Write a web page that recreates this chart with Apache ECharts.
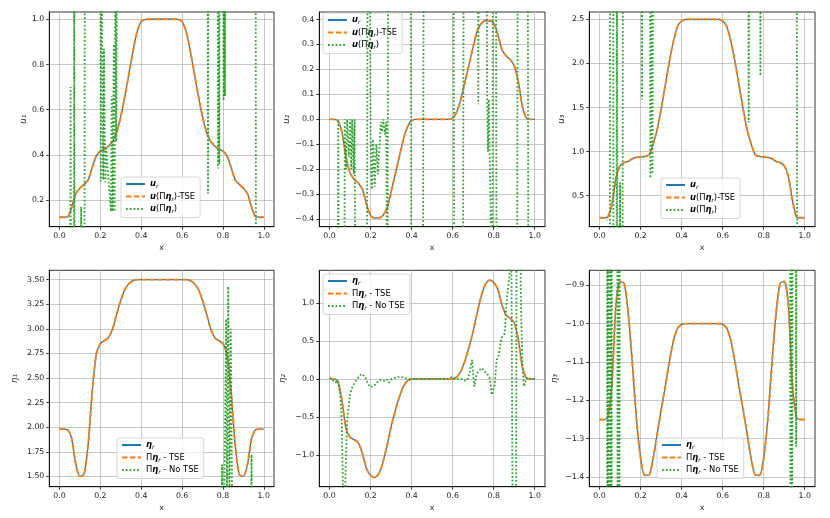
<!DOCTYPE html>
<html>
<head>
<meta charset="utf-8">
<script src="https://cdn.jsdelivr.net/npm/echarts@6/dist/echarts.min.js"></script>
<style>
html,body{margin:0;padding:0;background:#fff;}
#chart{width:830px;height:518px;}
</style>
</head>
<body>
<div id="chart"></div>
<script>
// ---- data ----
const xs = [0,0.02,0.04,0.06,0.08,0.10,0.12,0.14,0.16,0.18,0.20,0.22,0.24,0.26,0.28,0.30,0.32,0.34,0.36,0.38,0.40,0.42,0.44,0.46,0.48,0.50,
            0.52,0.54,0.56,0.58,0.60,0.62,0.64,0.66,0.68,0.70,0.72,0.74,0.76,0.78,0.80,0.82,0.84,0.86,0.88,0.90,0.92,0.94,0.96,0.98,1.0];

const u1Ref = [0.125,0.125,0.127,0.17,0.23,0.253,0.27,0.29,0.345,0.395,0.418,0.425,0.44,0.46,0.5,0.57,0.66,0.76,0.86,0.945,0.99,0.999,1,1,1,1,
               1,1,1,0.999,0.99,0.945,0.86,0.76,0.66,0.57,0.5,0.46,0.44,0.425,0.418,0.395,0.345,0.29,0.27,0.253,0.23,0.17,0.127,0.125,0.125];
const u2Ref = [0,0,-0.005,-0.05,-0.15,-0.215,-0.24,-0.255,-0.28,-0.34,-0.385,-0.395,-0.395,-0.385,-0.355,-0.29,-0.22,-0.15,-0.08,-0.03,-0.005,0,0,0,0,0,
               0,0,0,0,0.005,0.03,0.08,0.15,0.22,0.29,0.355,0.385,0.395,0.395,0.385,0.34,0.28,0.255,0.24,0.215,0.15,0.05,0.005,0,0];
const u3Ref = [0.25,0.25,0.26,0.4,0.7,0.84,0.875,0.89,0.92,0.935,0.94,0.945,0.96,1.08,1.24,1.48,1.75,2.02,2.25,2.42,2.48,2.5,2.5,2.5,2.5,2.5,
               2.5,2.5,2.5,2.5,2.48,2.42,2.25,2.02,1.75,1.48,1.24,1.08,0.96,0.945,0.94,0.935,0.92,0.89,0.875,0.84,0.72,0.45,0.26,0.25,0.25];
const eta1Ref = [1.98,1.98,1.975,1.88,1.62,1.5,1.52,1.82,2.36,2.74,2.85,2.88,2.91,3.0,3.15,3.29,3.4,3.46,3.49,3.5,3.5,3.5,3.5,3.5,3.5,3.5,
                 3.5,3.5,3.5,3.5,3.5,3.5,3.49,3.46,3.4,3.29,3.15,3.0,2.91,2.88,2.85,2.74,2.36,1.82,1.52,1.5,1.62,1.88,1.975,1.98,1.98];
const eta2Ref = [0,0,-0.03,-0.28,-0.65,-0.77,-0.8,-0.84,-0.98,-1.18,-1.27,-1.3,-1.25,-1.1,-0.88,-0.63,-0.42,-0.24,-0.1,-0.025,-0.003,0,0,0,0,0,
                 0,0,0,0,0.003,0.025,0.1,0.24,0.42,0.63,0.88,1.1,1.25,1.3,1.27,1.18,0.98,0.84,0.8,0.74,0.52,0.15,0.01,0,0];
const eta3Ref = [-1.25,-1.25,-1.245,-1.16,-0.95,-0.89,-0.895,-0.975,-1.105,-1.25,-1.35,-1.395,-1.395,-1.355,-1.29,-1.225,-1.165,-1.1,-1.045,-1.012,-1.002,-1,-1,-1,-1,-1,
                 -1,-1,-1,-1,-1.002,-1.012,-1.045,-1.1,-1.165,-1.225,-1.29,-1.355,-1.395,-1.395,-1.35,-1.25,-1.105,-0.975,-0.895,-0.89,-0.95,-1.16,-1.245,-1.25,-1.25];

// TSE projections coincide with the references
const u1Tse = u1Ref, u2Tse = u2Ref, u3Tse = u3Ref;
const eta1Tse = eta1Ref, eta2Tse = eta2Ref, eta3Tse = eta3Ref;

// No-TSE (wildly oscillating, mostly off-scale) [x, value]
const u1NoTse = [[0,-0.5],[0.052,-0.5],[0.054,0.70],[0.056,-0.5],[0.070,-0.5],[0.072,1.6],[0.074,-0.5],
  [0.104,-0.5],[0.106,0.17],[0.108,-0.5],[0.122,-0.5],[0.124,1.6],[0.200,1.6],[0.202,0.283],[0.204,1.6],
  [0.212,1.6],[0.214,0.29],[0.218,0.87],[0.224,0.28],[0.228,0.43],[0.252,0.15],[0.256,0.66],
  [0.260,0.15],[0.266,0.89],[0.270,0.15],[0.274,1.6],[0.278,0.46],[0.282,1.6],[0.725,1.6],[0.727,0.23],[0.729,1.6],
  [0.774,1.6],[0.776,0.34],[0.778,1.6],[0.782,0.36],[0.784,1.6],[0.800,1.6],[0.803,0.64],[0.806,1.6],[0.810,0.66],
  [0.813,1.6],[0.960,1.6],[0.962,-0.5],[1.0,-0.5]];
const u2NoTse = [[0,-0.8],[0.040,-0.8],[0.042,0.0],[0.046,-0.8],[0.072,-0.8],[0.074,0.0],[0.080,-0.2],[0.086,0.0],
  [0.094,-0.15],[0.100,0.0],[0.106,-0.2],[0.110,0.0],[0.118,-0.22],[0.122,0.0],[0.126,-0.8],[0.182,-0.8],[0.186,0.8],
  [0.196,0.8],[0.200,-0.07],[0.206,-0.28],[0.212,-0.08],[0.220,-0.27],[0.228,-0.1],[0.236,-0.22],[0.250,-0.01],
  [0.256,-0.05],[0.262,0.0],[0.270,-0.06],[0.276,-0.01],[0.282,-0.8],[0.286,0.8],
  [0.395,0.8],[0.399,-0.8],[0.455,-0.8],[0.459,0.8],[0.604,0.8],[0.608,-0.8],[0.650,-0.8],[0.654,0.8],[0.723,0.8],
  [0.725,0.06],[0.727,0.8],[0.766,0.8],[0.768,0.09],[0.772,-0.13],[0.776,0.08],[0.780,-0.12],[0.794,-0.8],[0.796,0.8],
  [0.811,0.8],[0.814,-0.8],[0.914,-0.8],[0.917,0.8],[0.966,0.8],[0.969,-0.8],[1.0,-0.8]];
const u3NoTse = [[0,-1],[0.050,-1],[0.052,4],[0.066,4],[0.068,-1],[0.083,-1],[0.085,4],[0.087,-1],[0.098,-1],[0.100,0.65],
  [0.102,-1],[0.112,-1],[0.114,4],[0.205,4],[0.207,1.59],[0.209,4],[0.245,4],[0.248,0.7],[0.252,4],[0.258,0.75],[0.262,4],
  [0.725,4],[0.727,1.33],[0.729,4],[0.782,4],[0.784,1.86],[0.786,4],[0.961,4],[0.963,-1],[1.0,-1]];
const eta1NoTse = [[0,0],[0.790,0],[0.796,1.62],[0.800,0],[0.808,0],[0.816,3.1],[0.820,1.0],[0.826,3.43],[0.832,1.2],
  [0.838,3.0],[0.850,0],[0.935,0],[0.940,1.72],[0.945,0],[1.0,0]];
const eta2NoTse = [[0,0.01],[0.01,0.0],[0.02,-0.03],[0.03,-0.05],[0.036,-0.02],[0.044,-0.08],[0.052,-0.2],[0.06,-0.6],
  [0.066,-1.6],[0.07,-3],[0.074,-1.8],[0.08,-1.0],[0.086,-0.55],[0.092,-0.38],[0.1,-0.2],[0.108,-0.13],[0.117,-0.08],
  [0.125,-0.04],[0.133,-0.01],[0.143,0.03],[0.154,0.064],[0.163,0.05],[0.173,0.03],[0.18,-0.02],[0.19,-0.08],[0.2,-0.11],
  [0.209,-0.12],[0.22,-0.08],[0.23,-0.055],[0.24,-0.02],[0.251,-0.01],[0.26,-0.02],[0.27,-0.03],[0.28,-0.01],[0.29,-0.05],
  [0.295,-0.055],[0.303,0.0],[0.311,0.02],[0.33,0.024],[0.352,0.024],[0.37,0.01],[0.384,0.0],[0.4,0],[0.5,0],[0.58,0],
  [0.595,0.02],[0.608,0.0],[0.62,-0.01],[0.632,0.01],[0.643,0.0],[0.655,-0.02],[0.668,-0.025],[0.676,0.02],[0.684,0.1],
  [0.69,0.2],[0.695,0.25],[0.7,0.05],[0.705,-0.1],[0.71,-0.03],[0.716,0.05],[0.724,0.1],[0.732,0.12],[0.744,0.14],
  [0.752,0.1],[0.76,0.12],[0.765,0.08],[0.772,0.05],[0.78,0.01],[0.786,-0.1],[0.79,-0.21],[0.797,-0.15],[0.805,-0.08],
  [0.81,0.1],[0.814,0.25],[0.82,0.28],[0.825,0.32],[0.832,0.45],[0.838,0.54],[0.846,0.56],[0.854,0.6],[0.862,1.0],
  [0.87,1.2],[0.878,1.37],[0.884,3],[0.888,3],[0.894,-3],[0.908,-3],[0.912,3],[0.928,3],[0.932,1.2],[0.936,0.6],
  [0.94,0.2],[0.944,0.05],[0.948,-0.1],[0.954,-0.05],[0.96,0.01],[0.97,0.0],[1.0,0.0]];
const eta3NoTse = [[0,-2],[0.036,-2],[0.038,0],[0.042,-2],[0.046,0],[0.050,-2],[0.054,0],[0.058,-2],[0.062,0],[0.086,0],
  [0.088,-2],[0.092,0],[0.096,-2],[0.100,0],[0.928,0],[0.930,-2],[0.934,0],[0.938,-2],[0.942,0],[0.955,0],[0.958,-1.32],
  [0.962,0],[1.0,0]];

// ticks
const xTicks = [0,0.2,0.4,0.6,0.8,1.0];
const u1Ticks = [0.2,0.4,0.6,0.8,1.0];
const u2Ticks = [-0.4,-0.3,-0.2,-0.1,0.0,0.1,0.2,0.3,0.4];
const u3Ticks = [0.5,1.0,1.5,2.0,2.5];
const eta1Ticks = [1.5,1.75,2.0,2.25,2.5,2.75,3.0,3.25,3.5];
const eta2Ticks = [-1.0,-0.5,0.0,0.5,1.0];
const eta3Ticks = [-1.4,-1.3,-1.2,-1.1,-1.0,-0.9];

// ---- layout / style ----
const FONT = 'DejaVu Sans';
const panels = [
  {ref:u1Ref, tse:u1Tse, no:u1NoTse, ticks:u1Ticks, dec:1, ymin:0.083, ymax:1.032, name:'u₁', row:0, col:0, gap:21, legend:{left:121,top:177}, names:['ur','uTSE','uNo']},
  {ref:u2Ref, tse:u2Tse, no:u2NoTse, ticks:u2Ticks, dec:1, ymin:-0.43, ymax:0.43, name:'u₂', row:0, col:1, gap:28, legend:{left:323,top:13}, names:['ur','uTSE','uNo']},
  {ref:u3Ref, tse:u3Tse, no:u3NoTse, ticks:u3Ticks, dec:1, ymin:0.149, ymax:2.583, name:'u₃', row:0, col:2, gap:23, legend:{left:661,top:178}, names:['ur','uTSE','uNo']},
  {ref:eta1Ref, tse:eta1Tse, no:eta1NoTse, ticks:eta1Ticks, dec:2, ymin:1.395, ymax:3.595, name:'η₁', row:1, col:0, gap:30, legend:{left:117,top:438}, names:['er','eTSE','eNo']},
  {ref:eta2Ref, tse:eta2Tse, no:eta2NoTse, ticks:eta2Ticks, dec:1, ymin:-1.42, ymax:1.43, name:'η₂', row:1, col:1, gap:32, legend:{left:323,top:274}, names:['er','eTSE','eNo']},
  {ref:eta3Ref, tse:eta3Tse, no:eta3NoTse, ticks:eta3Ticks, dec:1, ymin:-1.425, ymax:-0.861, name:'η₃', row:1, col:2, gap:30, legend:{left:657,top:438}, names:['er','eTSE','eNo']}
];
const colLeft = [49.3, 319.3, 589.3];
const colWidth = [224.7, 225.7, 225.7];
const rowTop = [12, 270.3];
const rowHeight = [214.7, 216.4];

const labelMap = {
  ur: '{bi|u}{sub|r}',
  uTSE: '{bi|u}{n|(Π}{bi|η}{sub|r}{n|)-TSE}',
  uNo: '{bi|u}{n|(Π}{bi|η}{sub|r}{n|)}',
  er: '{bi|η}{sub|r}',
  eTSE: '{n|Π}{bi|η}{sub|r}{n| - TSE}',
  eNo: '{n|Π}{bi|η}{sub|r}{n| - No TSE}'
};
const rich = {
  n: {fontFamily: FONT, fontSize: 8.4, color: '#000', lineHeight: 11, verticalAlign: 'middle'},
  bi: {fontFamily: FONT, fontSize: 8.4, fontWeight: 'bold', fontStyle: 'italic', color: '#000', lineHeight: 11, verticalAlign: 'middle'},
  sub: {fontFamily: FONT, fontSize: 5.8, fontStyle: 'italic', color: '#000', lineHeight: 11, verticalAlign: 'bottom', padding: [3,0,0,0]}
};
const fmt = (v, d) => v.toFixed(d).replace('-', '\u2212');
const gridLine = {show: true, lineStyle: {color: '#b0b0b0', width: 0.7}};
const axisLine = {show: true, onZero: false, lineStyle: {color: '#000', width: 0.8}};

const grids = [], xAxes = [], yAxes = [], series = [], legends = [];
panels.forEach((p, i) => {
  grids.push({left: colLeft[p.col], top: rowTop[p.row], width: colWidth[p.col], height: rowHeight[p.row],
    show: true, borderColor: '#000', borderWidth: 0.8, backgroundColor: 'transparent', containLabel: false});
  xAxes.push({gridIndex: i, type: 'value', min: -0.05, max: 1.05,
    name: 'x', nameLocation: 'middle', nameGap: 17,
    nameTextStyle: {fontFamily: FONT, fontSize: 7.9, color: '#222'},
    axisLine: axisLine,
    axisTick: {show: true, inside: false, length: 3, customValues: xTicks, lineStyle: {color: '#000', width: 0.8}},
    axisLabel: {customValues: xTicks, formatter: v => fmt(v, 1), fontFamily: FONT, fontSize: 7.8, color: '#222', margin: 5},
    splitLine: gridLine});
  yAxes.push({gridIndex: i, type: 'value', min: p.ymin, max: p.ymax,
    name: p.name, nameLocation: 'middle', nameGap: p.gap, nameRotate: 90,
    nameTextStyle: {fontFamily: FONT, fontSize: 8.6, fontStyle: 'italic', color: '#222'},
    axisLine: axisLine,
    axisTick: {show: true, inside: false, length: 3, customValues: p.ticks, lineStyle: {color: '#000', width: 0.8}},
    axisLabel: {customValues: p.ticks, formatter: v => fmt(v, p.dec), fontFamily: FONT, fontSize: 7.8, color: '#222', margin: 5},
    splitLine: gridLine});
  const common = {type: 'line', xAxisIndex: i, yAxisIndex: i, symbol: 'none', showSymbol: false, animation: false, clip: true};
  series.push(Object.assign({}, common, {name: p.names[0], smooth: 0.25, data: xs.map((x, k) => [x, p.ref[k]]),
    lineStyle: {color: '#1f77b4', width: 1.3}, itemStyle: {color: '#1f77b4'}, z: 2}));
  series.push(Object.assign({}, common, {name: p.names[1], smooth: 0.25, data: xs.map((x, k) => [x, p.tse[k]]),
    lineStyle: {color: '#ff7f0e', width: 1.9, type: [5.5, 2.4]}, itemStyle: {color: '#ff7f0e'}, z: 3}));
  series.push(Object.assign({}, common, {name: p.names[2], data: p.no,
    lineStyle: {color: '#2ca02c', width: 1.8, type: [1.7, 2.1]}, itemStyle: {color: '#2ca02c'}, z: 4}));
  legends.push({data: p.names, left: p.legend.left, top: p.legend.top, orient: 'vertical',
    itemWidth: 19, itemHeight: 8, itemGap: 3, padding: [3, 5, 3, 4],
    itemStyle: {opacity: 0, color: 'rgba(0,0,0,0)', borderWidth: 0},
    backgroundColor: 'rgba(255,255,255,0.8)', borderColor: '#cccccc', borderWidth: 0.8, borderRadius: 2,
    selectedMode: false, formatter: n => labelMap[n],
    textStyle: {fontFamily: FONT, fontSize: 8.4, color: '#000', rich: rich}});
});

const chart = echarts.init(document.getElementById('chart'), null, {renderer: 'canvas'});
chart.setOption({
  backgroundColor: '#fff',
  animation: false,
  textStyle: {fontFamily: FONT},
  grid: grids, xAxis: xAxes, yAxis: yAxes, series: series, legend: legends
});
</script>
</body>
</html>
